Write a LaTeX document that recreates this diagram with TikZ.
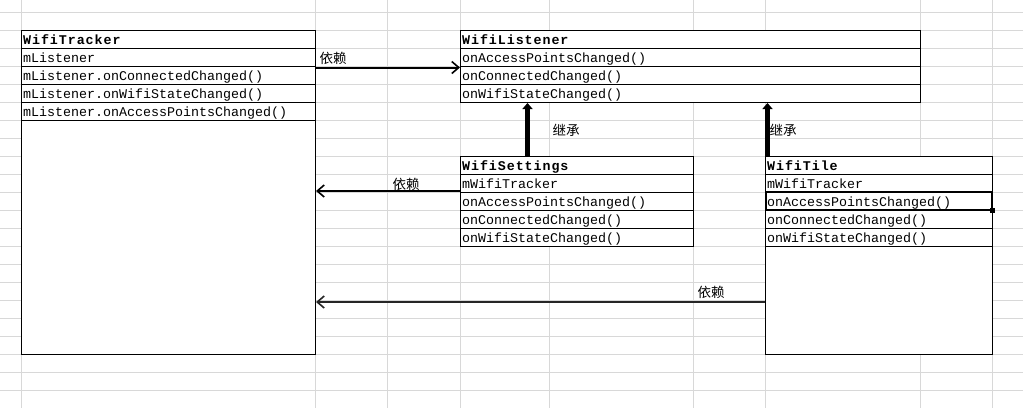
\documentclass[tikz,border=0pt]{standalone}
\usepackage{fontspec}
\usetikzlibrary{arrows.meta,calc}
\newfontfamily\monof{Liberation Mono}
\newfontfamily\monobf[LetterSpace=7]{Liberation Mono}
\newfontfamily\cjk{Noto Sans CJK SC}
\definecolor{gridgray}{RGB}{216,216,216}
\tikzset{
  gridline/.style={draw=gridgray, line width=0.9pt},
  cls/.style={draw=black, fill=white, line width=1pt, inner sep=0pt, anchor=north west},
  sep/.style={draw=black, line width=1pt},
  cell/.style={anchor=base west, inner sep=0pt, font=\monof\fontsize{13.33}{16}\selectfont},
  hdr/.style={anchor=base west, inner sep=0pt, font=\monobf\bfseries\fontsize{13.33}{16}\selectfont},
  dep/.style={line width=2pt, -{Straight Barb[length=7pt,width=12pt,line width=1.6pt]}},
  inh/.style={line width=5pt, -{Triangle[length=6pt,width=10pt]}},
  lbl/.style={font=\cjk\fontsize{13.5}{16}\selectfont, inner sep=0pt}
}
\begin{document}
\begin{tikzpicture}[x=1pt,y=-1pt]
\useasboundingbox (0,0) rectangle (1023,408);
\fill[white] (0,0) rectangle (1023,408);
% spreadsheet grid
\foreach \yy in {12,30,...,390} \draw[gridline] (0,\yy) -- (1023,\yy);
\foreach \xx in {21,315,387.5,460,549,693,765,920,992} \draw[gridline] (\xx,0) -- (\xx,408);

% WifiTracker
\node[cls, minimum width=294pt, minimum height=324pt] (tracker) at (21,30) {};
\foreach \yy in {48,66,84,102,120} \draw[sep] (21,\yy) -- (315,\yy);
\node[hdr] (trackerH) at (23,44.5) {WifiTracker};
\node[cell] (trackerA) at (23,62.5) {mListener};
\node[cell] (trackerB) at (23,80.5) {mListener.onConnectedChanged()};
\node[cell] (trackerC) at (23,98.5) {mListener.onWifiStateChanged()};
\node[cell] (trackerD) at (23,116.5) {mListener.onAccessPointsChanged()};

% WifiListener
\node[cls, minimum width=460pt, minimum height=72pt] (listener) at (460,30) {};
\foreach \yy in {48,66,84} \draw[sep] (460,\yy) -- (920,\yy);
\node[hdr] (listenerH) at (462,44.5) {WifiListener};
\node[cell] (listenerA) at (462,62.5) {onAccessPointsChanged()};
\node[cell] (listenerB) at (462,80.5) {onConnectedChanged()};
\node[cell] (listenerC) at (462,98.5) {onWifiStateChanged()};

% WifiSettings
\node[cls, minimum width=233pt, minimum height=90pt] (settings) at (460,156) {};
\foreach \yy in {174,192,210,228} \draw[sep] (460,\yy) -- (693,\yy);
\node[hdr] (settingsH) at (462,170.5) {WifiSettings};
\node[cell] (settingsA) at (462,188.5) {mWifiTracker};
\node[cell] (settingsB) at (462,206.5) {onAccessPointsChanged()};
\node[cell] (settingsC) at (462,224.5) {onConnectedChanged()};
\node[cell] (settingsD) at (462,242.5) {onWifiStateChanged()};

% WifiTile
\node[cls, minimum width=227pt, minimum height=198pt] (tile) at (765,156) {};
\foreach \yy in {174,192,210,228,246} \draw[sep] (765,\yy) -- (992,\yy);
\node[hdr] (tileH) at (767,170.5) {WifiTile};
\node[cell] (tileA) at (767,188.5) {mWifiTracker};
\node[cell] (tileB) at (767,206.5) {onAccessPointsChanged()};
\node[cell] (tileC) at (767,224.5) {onConnectedChanged()};
\node[cell] (tileD) at (767,242.5) {onWifiStateChanged()};
% selected cell
\draw[line width=2pt] (766,192) rectangle (992,210);
\fill[black] (989.5,207.5) rectangle (994.5,212.5);

% dependencies
\draw[dep] ($(tracker.north east)+(0,37.5)$) -- ($(listener.north west)+(0,37.5)$);
\node[lbl] (dep1) at (333,58) {依赖};
\draw[dep] ($(settings.north west)+(0,35)$) -- ($(tracker.north east)+(0,161)$);
\node[lbl] (dep2) at (406,184) {依赖};
\draw[dep, draw=black!85] ($(tile.north west)+(0,146)$) -- ($(tracker.north east)+(0,272)$);
\node[lbl] (dep3) at (711,292) {依赖};

% inheritance
\draw[inh] ($(settings.north west)+(67.5,0)$) -- ($(listener.south west)+(67.5,0)$);
\node[lbl] (inh1) at (566,130) {继承};
\draw[inh] ($(tile.north west)+(2.5,0)$) -- ($(listener.south west)+(307.5,0)$);
\node[lbl] (inh2) at (783,130) {继承};
\end{tikzpicture}
\end{document}
